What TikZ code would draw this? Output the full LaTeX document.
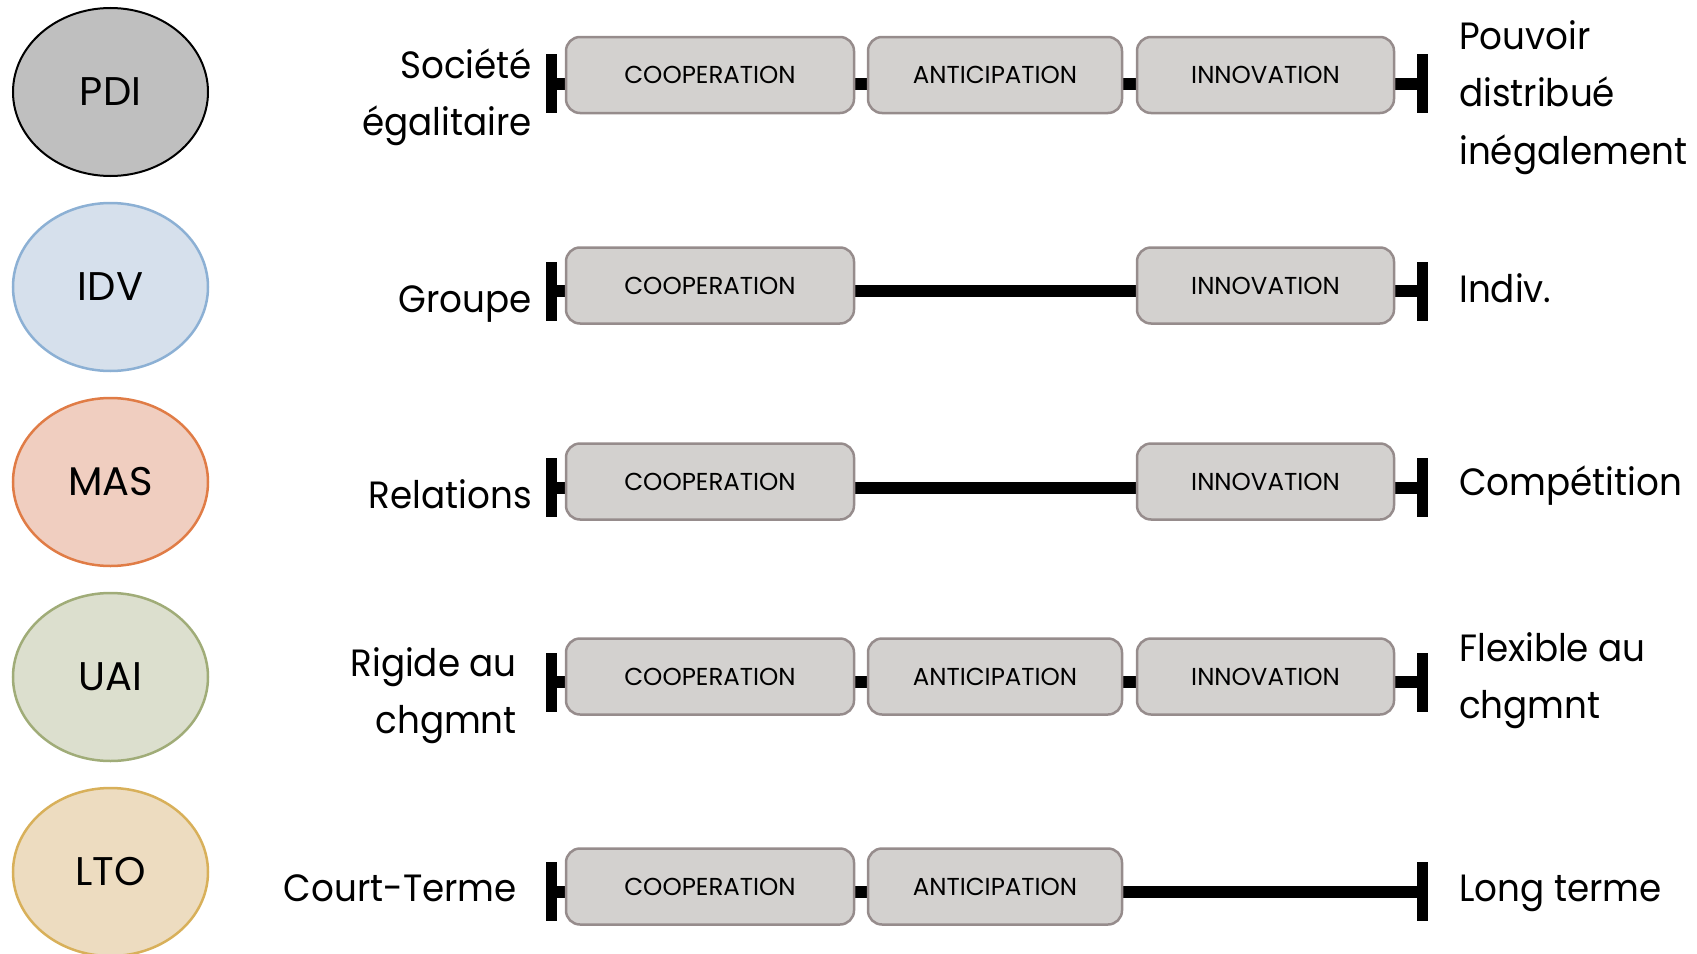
\documentclass[tikz,border=0pt]{standalone}
\usepackage{fontspec}
\setmainfont{Poppins}
\newfontfamily\lblfont[FakeStretch=0.94]{Poppins}
\usetikzlibrary{shapes.geometric}
\definecolor{boxfill}{RGB}{211,209,207}
\definecolor{boxdraw}{RGB}{150,140,140}
\definecolor{pdifill}{RGB}{191,191,191}
\definecolor{idvfill}{RGB}{214,224,236}
\definecolor{idvdraw}{RGB}{140,176,212}
\definecolor{masfill}{RGB}{240,206,192}
\definecolor{masdraw}{RGB}{224,124,70}
\definecolor{uaifill}{RGB}{220,223,206}
\definecolor{uaidraw}{RGB}{160,172,120}
\definecolor{ltofill}{RGB}{237,220,192}
\definecolor{ltodraw}{RGB}{216,176,90}
\tikzset{
  dimension/.style={ellipse, minimum width=195pt, minimum height=168pt, inner sep=0pt,
    line width=2.5pt, font=\fontsize{40}{48}\selectfont},
  factor/.style={draw=boxdraw, fill=boxfill, line width=2.5pt, rounded corners=14pt,
    minimum height=76pt, inner sep=0pt, font=\fontsize{24.5}{28}\selectfont},
  endbar/.style={fill=black, minimum width=11pt, minimum height=59pt, inner sep=0pt},
  axis/.style={line width=12pt},
  lbl/.style={font=\lblfont\fontsize{38}{46}\selectfont, inner sep=0pt},
}
\begin{document}
\begin{tikzpicture}[x=1pt,y=-1pt]
\useasboundingbox (0,0) rectangle (1697,953);

% dimension ellipses
\node[dimension, draw=black, line width=2pt, fill=pdifill] (pdi) at (110.5,92) {PDI};
\node[dimension, draw=idvdraw, fill=idvfill] (idv) at (110.5,287) {IDV};
\node[dimension, draw=masdraw, fill=masfill] (mas) at (110.5,482) {MAS};
\node[dimension, draw=uaidraw, fill=uaifill] (uai) at (110.5,677) {UAI};
\node[dimension, draw=ltodraw, fill=ltofill] (lto) at (110.5,872) {LTO};

% ---- row 1 : PDI
\node[endbar] (lb1) at (551.5,83.5) {};
\node[endbar] (rb1) at (1422.5,83.5) {};
\draw[axis] (lb1.center) -- (rb1.center);
\node[factor, minimum width=288pt] (c1) at (710,75) {COOPERATION};
\node[factor, minimum width=254pt] (a1) at (995,75) {ANTICIPATION};
\node[factor, minimum width=257pt] (i1) at (1265.5,75) {INNOVATION};
\node[lbl, anchor=base east] (l1a) at (532,78) {Société};
\node[lbl, anchor=base east] (l1b) at (532,135) {égalitaire};
\node[lbl, anchor=base west] (r1a) at (1459,49) {Pouvoir};
\node[lbl, anchor=base west] (r1b) at (1459,106) {distribué};
\node[lbl, anchor=base west] (r1c) at (1459,164) {inégalement};

% ---- row 2 : IDV
\node[endbar] (lb2) at (551.5,291) {};
\node[endbar] (rb2) at (1422.5,291) {};
\draw[axis] (lb2.center) -- (rb2.center);
\node[factor, minimum width=288pt] (c2) at (710,285.5) {COOPERATION};
\node[factor, minimum width=257pt] (i2) at (1265.5,285.5) {INNOVATION};
\node[lbl, anchor=base east] (l2) at (532,312) {Groupe};
\node[lbl, anchor=base west] (r2) at (1459,302) {Indiv.};

% ---- row 3 : MAS
\node[endbar] (lb3) at (551.5,487.5) {};
\node[endbar] (rb3) at (1422.5,487.5) {};
\draw[axis] (lb3.center) -- (rb3.center);
\node[factor, minimum width=288pt] (c3) at (710,481.5) {COOPERATION};
\node[factor, minimum width=257pt] (i3) at (1265.5,481.5) {INNOVATION};
\node[lbl, anchor=base east] (l3) at (532,508) {Relations};
\node[lbl, anchor=base west] (r3) at (1459,495) {Compétition};

% ---- row 4 : UAI
\node[endbar] (lb4) at (551.5,682) {};
\node[endbar] (rb4) at (1422.5,682) {};
\draw[axis] (lb4.center) -- (rb4.center);
\node[factor, minimum width=288pt] (c4) at (710,676.5) {COOPERATION};
\node[factor, minimum width=254pt] (a4) at (995,676.5) {ANTICIPATION};
\node[factor, minimum width=257pt] (i4) at (1265.5,676.5) {INNOVATION};
\node[lbl, anchor=base east] (l4a) at (517,676) {Rigide au};
\node[lbl, anchor=base east] (l4b) at (517,733) {chgmnt};
\node[lbl, anchor=base west] (r4a) at (1459,661) {Flexible au};
\node[lbl, anchor=base west] (r4b) at (1459,718) {chgmnt};

% ---- row 5 : LTO
\node[endbar] (lb5) at (551.5,891.5) {};
\node[endbar] (rb5) at (1422.5,891.5) {};
\draw[axis] (lb5.center) -- (rb5.center);
\node[factor, minimum width=288pt] (c5) at (710,886.5) {COOPERATION};
\node[factor, minimum width=254pt] (a5) at (995,886.5) {ANTICIPATION};
\node[lbl, anchor=base east] (l5) at (517,901) {Court-Terme};
\node[lbl, anchor=base west] (r5) at (1459,901) {Long terme};
\end{tikzpicture}
\end{document}
